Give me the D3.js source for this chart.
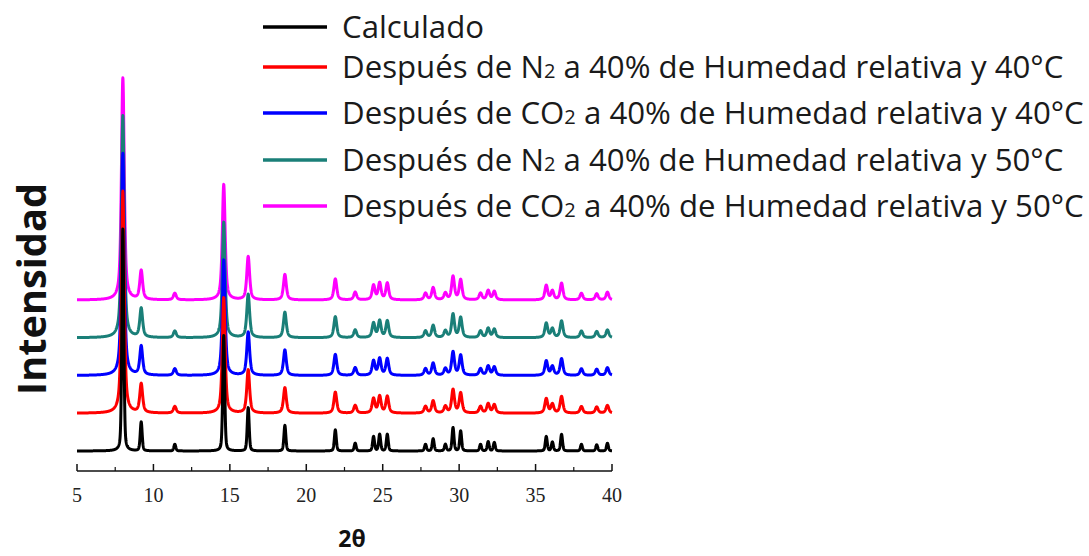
<!DOCTYPE html>
<html>
<head>
<meta charset="utf-8">
<script src="https://cdn.jsdelivr.net/npm/d3@7"></script>
<style>
  body { margin: 0; background: #fff; }
</style>
</head>
<body>
<div id="viz"></div>
<script>
// peak positions (2θ) and relative intensities
const peakPos = [8.0, 9.2, 11.4, 14.6, 16.2, 18.6, 21.9, 23.2, 24.4, 24.8, 25.3, 27.8, 28.3,
                 29.1, 29.6, 30.1, 31.4, 31.9, 32.3, 35.7, 36.1, 36.7, 38.0, 39.0, 39.7];
const peakInt = [100, 13, 3, 52, 19.5, 11.5, 9.5, 3.5, 6.5, 7.5, 7.5, 3, 5.5,
                 3, 10.5, 9, 3, 4.2, 3.8, 6.5, 4, 7.5, 3, 2.8, 3.5];

const seriesNames = [
    "Calculado",
    "Después de N|2| a 40% de Humedad relativa y 40°C",
    "Después de CO|2| a 40% de Humedad relativa y 40°C",
    "Después de N|2| a 40% de Humedad relativa y 50°C",
    "Después de CO|2| a 40% de Humedad relativa y 50°C"
];
const seriesColors = ["#000000", "#ff0000", "#0000ff", "#1a7f78", "#ff00ff"];
const seriesOffset = [0, 17, 34, 51, 68];
const seriesFwhm = [0.15, 0.22, 0.22, 0.22, 0.22];
const seriesEta = [0.35, 0.65, 0.65, 0.65, 0.65];

const xTicks = [5, 10, 15, 20, 25, 30, 35, 40];
const xMinorTicks = [7.5, 12.5, 17.5, 22.5, 27.5, 32.5, 37.5];

const width = 1089;
const height = 556;

const svg = d3.select("#viz").append("svg")
    .attr("width", width)
    .attr("height", height);

const x = d3.scaleLinear().domain([5, 40]).range([77, 612]);
const y = d3.scaleLinear().domain([0, 200]).range([451, 7]);

// pseudo-Voigt profile for each peak
function profile(t, fwhm, eta) {
    let v = 0;
    const hw = fwhm / 2;
    peakPos.forEach((p, i) => {
        const d = t - p;
        const lor = 1 / (1 + (d / hw) * (d / hw));
        const gau = Math.exp(-Math.LN2 * (d / hw) * (d / hw));
        v += peakInt[i] * (eta * lor + (1 - eta) * gau);
    });
    return v;
}

const grid = d3.range(5, 40.0001, 0.01);

const line = d3.line()
    .x(d => x(d[0]))
    .y(d => y(d[1]));

// top trace first, calculated pattern last
const order = [4, 3, 2, 1, 0];
order.forEach(i => {
    const pts = grid.map(t => [t, seriesOffset[i] + profile(t, seriesFwhm[i], seriesEta[i])]);
    svg.append("path")
        .attr("d", line(pts))
        .attr("fill", "none")
        .attr("stroke", seriesColors[i])
        .attr("stroke-width", 3)
        .attr("stroke-linejoin", "round");
});

// x axis
const axisY = 471;
const axisG = svg.append("g");
axisG.append("line")
    .attr("x1", x(5)).attr("x2", x(40))
    .attr("y1", axisY).attr("y2", axisY)
    .attr("stroke", "#111").attr("stroke-width", 1.5);
axisG.selectAll(".major").data(xTicks).enter().append("line")
    .attr("x1", d => x(d)).attr("x2", d => x(d))
    .attr("y1", axisY).attr("y2", axisY - 7)
    .attr("stroke", "#111").attr("stroke-width", 1.5);
axisG.selectAll(".minor").data(xMinorTicks).enter().append("line")
    .attr("x1", d => x(d)).attr("x2", d => x(d))
    .attr("y1", axisY).attr("y2", axisY - 4)
    .attr("stroke", "#111").attr("stroke-width", 1.2);
axisG.selectAll("text").data(xTicks).enter().append("text")
    .attr("x", d => x(d))
    .attr("y", 502)
    .attr("text-anchor", "middle")
    .attr("font-family", "Liberation Serif, serif")
    .attr("font-size", 20)
    .attr("fill", "#222")
    .text(d => d);

svg.append("text")
    .attr("x", 352)
    .attr("y", 547)
    .attr("text-anchor", "middle")
    .attr("font-family", "Open Sans, sans-serif")
    .attr("font-weight", "bold")
    .attr("font-size", 23)
    .attr("fill", "#111")
    .text("2θ");

svg.append("text")
    .attr("transform", "translate(46,289) rotate(-90)")
    .attr("text-anchor", "middle")
    .attr("font-family", "Open Sans, sans-serif")
    .attr("font-weight", "bold")
    .attr("font-size", 40)
    .attr("fill", "#111")
    .attr("textLength", 212)
    .attr("lengthAdjust", "spacingAndGlyphs")
    .text("Intensidad");

// legend
const legendY = [27, 67, 113, 160, 206];
const legend = svg.append("g");
const legendTexts = [];
seriesNames.forEach((name, i) => {
    legend.append("line")
        .attr("x1", 263).attr("x2", 327)
        .attr("y1", legendY[i]).attr("y2", legendY[i])
        .attr("stroke", seriesColors[i])
        .attr("stroke-width", 3.5);
    const t = legend.append("text")
        .attr("font-family", "Open Sans, sans-serif")
        .attr("font-size", 31)
        .attr("fill", "#1a1a1a");
    name.split("|").forEach((part, k) => {
        const ts = t.append("tspan").text(part);
        if (k % 2 === 1) ts.attr("font-size", 20);
    });
    legendTexts.push(t);
});
// narrow the legend font to match the reference width
const longest = d3.max(legendTexts, t => t.node().getComputedTextLength());
const sx = 742 / longest;
legendTexts.forEach((t, i) => {
    t.attr("transform", `translate(342,${legendY[i] + 11}) scale(${sx},1)`);
});
</script>
</body>
</html>
